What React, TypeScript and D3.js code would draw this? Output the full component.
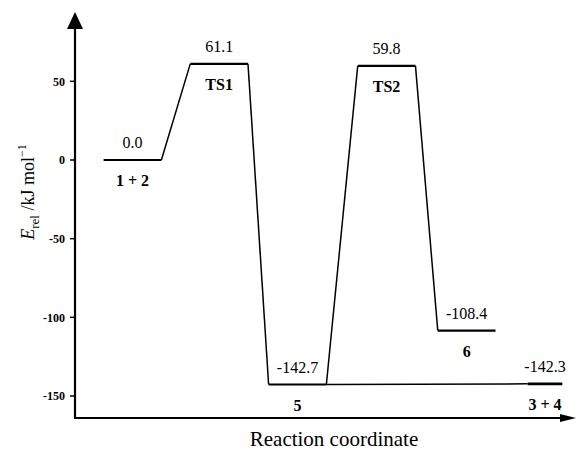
import React from 'react';
import * as d3 from 'd3';

// stationary points along the reaction path
const species = ['1 + 2', 'TS1', '5', 'TS2', '6', '3 + 4'];
const energies = [0.0, 61.1, -142.7, 59.8, -108.4, -142.3];
const positions = [0, 1.05, 2, 3.08, 4.05, 5];
const halfWidths = [0.35, 0.35, 0.35, 0.35, 0.35, 0.21];
// which levels are joined by a connector (from -> to)
const links = [
    [0, 1],
    [1, 2],
    [2, 3],
    [3, 4],
    [2, 5],
];
const yTicks = [50, 0, -50, -100, -150];

const width = 576;
const height = 454;
const axisX = 75;
const axisY = 418;
const serif = '"Liberation Serif", "Times New Roman", serif';

export default function App() {
    const x = d3.scaleLinear().domain([0, 5]).range([132.5, 545]);
    const y = d3.scaleLinear().domain([0, -142.7]).range([160, 384.5]);

    const levels = species.map((s, i) => ({
        name: s,
        e: energies[i],
        x0: x(positions[i] - halfWidths[i]),
        x1: x(positions[i] + halfWidths[i]),
        cx: x(positions[i]),
        y: y(energies[i]),
    }));

    const line = d3.line<[number, number]>();
    const fmt = (v: number) => d3.format('.1f')(v).replace('−', '-');

    return (
        <svg
            width={width}
            height={height}
            style={{ position: 'absolute', left: 0, top: 0, background: '#fff' }}
        >
            {/* axes */}
            <g stroke="#000" strokeWidth={2.2} fill="none">
                <line x1={axisX} y1={axisY} x2={axisX} y2={26} />
                <line x1={axisX - 1} y1={axisY} x2={562} y2={axisY} />
            </g>
            <path d={`M${axisX},12 L${axisX - 8},29 L${axisX + 8},29 Z`} fill="#000" />
            <path d={`M576,${axisY} L560,${axisY - 4} L560,${axisY + 4} Z`} fill="#000" />

            {/* y ticks */}
            <g>
                {yTicks.map(t => (
                    <g key={t} transform={`translate(${axisX},${y(t)})`}>
                        <line x1={-5} x2={0} stroke="#000" strokeWidth={1.5} />
                        <text
                            x={-10}
                            dy="0.35em"
                            textAnchor="end"
                            fontFamily={serif}
                            fontWeight="bold"
                            fontSize={12}
                        >
                            {t}
                        </text>
                    </g>
                ))}
            </g>

            {/* connectors */}
            <g stroke="#000" strokeWidth={1.5} fill="none">
                {links.map(([a, b], i) => (
                    <path
                        key={i}
                        d={line([
                            [levels[a].x1, levels[a].y],
                            [levels[b].x0, levels[b].y],
                        ]) || ''}
                    />
                ))}
            </g>

            {/* levels */}
            <g stroke="#000" fill="none">
                {levels.map((l, i) => (
                    <line key={i} x1={l.x0} x2={l.x1} y1={l.y} y2={l.y} strokeWidth={i === 5 ? 2.8 : 2.2} />
                ))}
            </g>

            {/* labels */}
            <g fontFamily={serif} fontSize={16} textAnchor="middle">
                {levels.map((l, i) => (
                    <g key={i}>
                        <text x={l.cx} y={l.y - 12}>
                            {fmt(l.e)}
                        </text>
                        <text x={l.cx} y={l.y + 26} fontWeight="bold">
                            {l.name}
                        </text>
                    </g>
                ))}
            </g>

            {/* axis titles */}
            <text x={334} y={446} textAnchor="middle" fontFamily={serif} fontSize={21}>
                Reaction coordinate
            </text>
            <text
                transform="translate(34,192) rotate(-90)"
                textAnchor="middle"
                fontFamily={serif}
                fontSize={18}
            >
                <tspan fontStyle="italic">E</tspan>
                <tspan fontSize={13} dy={5}>rel</tspan>
                <tspan dy={-5}> /kJ mol</tspan>
                <tspan fontSize={12} dy={-8}>−1</tspan>
            </text>
        </svg>
    );
}
